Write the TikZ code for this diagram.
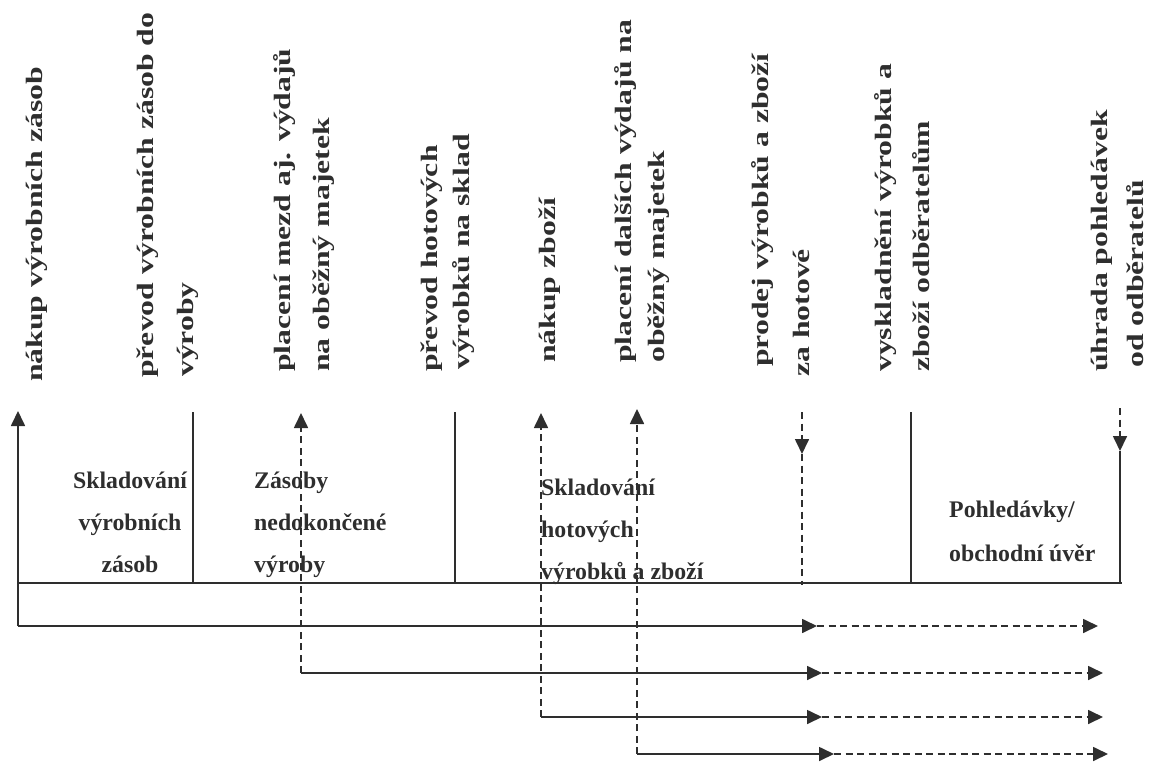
\documentclass[tikz,border=0pt]{standalone}
\usepackage{fontspec}
\setmainfont{Liberation Serif}
\usepackage{graphicx}
\usetikzlibrary{arrows.meta}
\definecolor{ink}{HTML}{2E2E2E}
\begin{document}
\begin{tikzpicture}[x=1pt,y=-1pt,
  ln/.style={draw=ink, line width=1.7pt},
  dsh/.style={ln, dash pattern=on 7pt off 4.5pt},
  tip/.style={-{Triangle[length=15pt,width=14pt]}},
  rlab/.style={rotate=90, anchor=base west, inner sep=0pt, text=ink,
    font=\fontsize{23.5}{28}\selectfont\bfseries},
  blab/.style={anchor=base west, inner sep=0pt, text=ink,
    font=\fontsize{23.8}{#1}\selectfont\bfseries},
]
\useasboundingbox (0,0) rectangle (1157,763);
\newcommand{\st}[1]{\scalebox{1.35}[1]{#1}}

% rotated event labels
\node[rlab] (l1a) at (42,382)   {\st{nákup výrobních zásob}};
\node[rlab] (l2a) at (153,378)  {\st{převod výrobních zásob do}};
\node[rlab] (l2b) at (193,377)  {\st{výroby}};
\node[rlab] (l3a) at (290,372)  {\st{placení mezd aj. výdajů}};
\node[rlab] (l3b) at (329,372)  {\st{na oběžný majetek}};
\node[rlab] (l4a) at (437,372)  {\st{převod hotových}};
\node[rlab] (l4b) at (469,370)  {\st{výrobků na sklad}};
\node[rlab] (l5a) at (555,363)  {\st{nákup zboží}};
\node[rlab] (l6a) at (631,363)  {\st{placení dalších výdajů na}};
\node[rlab] (l6b) at (664,363)  {\st{oběžný majetek}};
\node[rlab] (l7a) at (768,367)  {\st{prodej výrobků a zboží}};
\node[rlab] (l7b) at (809,377)  {\st{za hotové}};
\node[rlab] (l8a) at (891,372)  {\st{vyskladnění výrobků a}};
\node[rlab] (l8b) at (929,372)  {\st{zboží odběratelům}};
\node[rlab] (l9a) at (1107,372) {\st{úhrada pohledávek}};
\node[rlab] (l9b) at (1143,368) {\st{od odběratelů}};

% phase texts
\node[blab=42, anchor=base] (b1) at (130,488)
  {\begin{tabular}[t]{@{}c@{}}Skladování\\výrobních\\zásob\end{tabular}};
\node[blab=42] (b2) at (254,488)
  {\begin{tabular}[t]{@{}l@{}}Zásoby\\nedokončené\\výroby\end{tabular}};
\node[blab=42] (b3) at (541,495)
  {\begin{tabular}[t]{@{}l@{}}Skladování\\hotových\\výrobků a zboží\end{tabular}};
\node[blab=44] (b4) at (949,517)
  {\begin{tabular}[t]{@{}l@{}}Pohledávky/\\obchodní úvěr\end{tabular}};

% coordinates
\coordinate (axL) at (17,583);
\coordinate (axR) at (1122,583);
\coordinate (d1t) at (193,412);  \coordinate (d1b) at (193,583);
\coordinate (d2t) at (455,412);  \coordinate (d2b) at (455,583);
\coordinate (d3t) at (911,412);  \coordinate (d3b) at (911,583);

\coordinate (a1top) at (18,411);  \coordinate (a1c) at (18,626);
\coordinate (a1m) at (817,626);   \coordinate (a1e) at (1098,626);
\coordinate (a2top) at (301,413); \coordinate (a2c) at (301,673);
\coordinate (a2m) at (822,673);   \coordinate (a2e) at (1103,673);
\coordinate (a3top) at (541,413); \coordinate (a3c) at (541,717);
\coordinate (a3m) at (822,717);   \coordinate (a3e) at (1103,717);
\coordinate (a4top) at (637,409); \coordinate (a4c) at (637,754);
\coordinate (a4m) at (834,754);   \coordinate (a4e) at (1108,754);

\coordinate (s1t) at (802,412); \coordinate (s1m) at (802,454); \coordinate (s1b) at (802,585);
\coordinate (s2t) at (1120,408); \coordinate (s2m) at (1120,451); \coordinate (s2b) at (1120,583);

% axis and dividers
\draw[ln] (axL) -- (axR);
\draw[ln] (d1t) -- (d1b);
\draw[ln] (d2t) -- (d2b);
\draw[ln] (d3t) -- (d3b);

% row 1 (solid)
\draw[ln,tip] (a1c) -- (a1top);
\draw[ln,tip] (a1c) -- (a1m);
\draw[dsh,tip] (a1m) -- (a1e);
% row 2
\draw[dsh,tip] (a2c) -- (a2top);
\draw[ln,tip] (a2c) -- (a2m);
\draw[dsh,tip] (a2m) -- (a2e);
% row 3
\draw[dsh,tip] (a3c) -- (a3top);
\draw[ln,tip] (a3c) -- (a3m);
\draw[dsh,tip] (a3m) -- (a3e);
% row 4
\draw[dsh,tip] (a4c) -- (a4top);
\draw[ln,tip] (a4c) -- (a4m);
\draw[dsh,tip] (a4m) -- (a4e);

% downward arrows
\draw[dsh,tip] (s1t) -- (s1m);
\draw[dsh] (s1m) -- (s1b);
\draw[dsh,tip] (s2t) -- (s2m);
\draw[ln] (s2m) -- (s2b);
\end{tikzpicture}
\end{document}
